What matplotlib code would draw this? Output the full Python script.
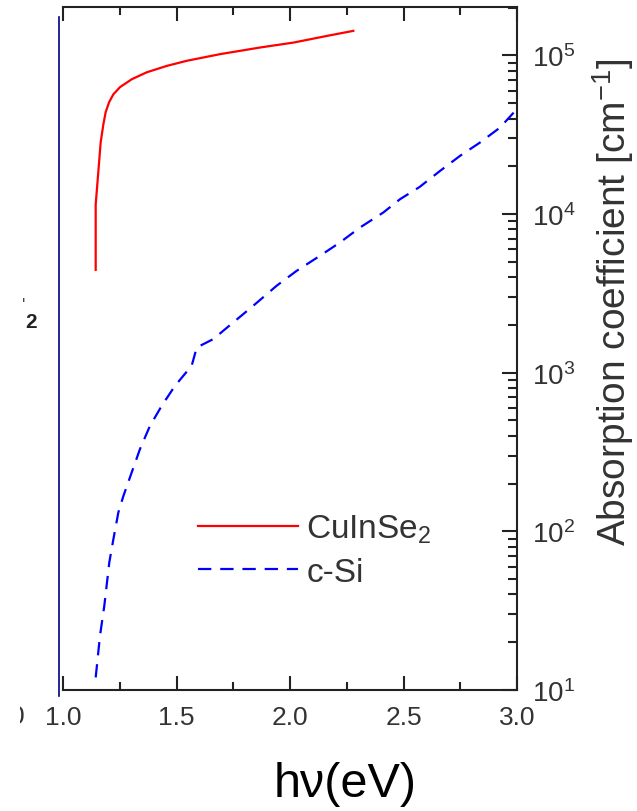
import matplotlib
matplotlib.use("Agg")
import matplotlib.pyplot as plt
from matplotlib.lines import Line2D
from matplotlib.transforms import Bbox
from matplotlib.ticker import MultipleLocator, LogLocator, NullFormatter

# photon energy (eV) and absorption coefficient (cm^-1)
cis_energy = [1.144, 1.144, 1.159, 1.166, 1.178, 1.188, 1.203, 1.222, 1.251, 1.303,
              1.369, 1.457, 1.545, 1.692, 1.868, 2.015, 2.162, 2.279]
cis_alpha = [4450, 11500, 21200, 28400, 36900, 43900, 50700, 56900, 63100, 70800,
             78300, 85900, 92500, 101900, 112200, 120500, 132700, 142900]

si_energy = [1.144, 1.163, 1.182, 1.204, 1.222, 1.244, 1.266, 1.303, 1.339, 1.383,
             1.435, 1.493, 1.567, 1.589, 1.662, 1.750, 1.838, 1.941, 2.029, 2.132,
             2.220, 2.308, 2.411, 2.485, 2.570, 2.661, 2.749, 2.837, 2.925, 3.000]
si_alpha = [12.0, 22.0, 34.0, 63.8, 89.3, 132, 167, 236, 330, 462,
            619, 826, 1107, 1442, 1629, 2075, 2642, 3532, 4385, 5458,
            6622, 8222, 10230, 12420, 14790, 18710, 23280, 28250, 35080, 46000]

series_labels = ["CuInSe$_2$", "c-Si"]

plt.rcParams["font.family"] = ["Liberation Sans", "DejaVu Sans"]
plt.rcParams["mathtext.fontset"] = "custom"
plt.rcParams["mathtext.rm"] = "Liberation Sans"
plt.rcParams["mathtext.it"] = "Liberation Sans:italic"

W, H = 637, 812
fig = plt.figure(figsize=(W / 100, H / 100), dpi=100)
ax = fig.add_axes([63 / W, 1 - 691 / H, (517 - 63) / W, (691 - 8) / H])

ax.plot(cis_energy, cis_alpha, color="#ff0000", lw=1.6, label=series_labels[0])
ax.plot(si_energy, si_alpha, color="#0000ff", lw=1.6, linestyle=(0, (6, 4)),
        label=series_labels[1])

ax.set_yscale("log")
ax.set_xlim(1.0, 3.0)
ax.set_ylim(10, 2.02e5)

spine_col = "#222222"
for side in ["top", "bottom", "right"]:
    ax.spines[side].set_linewidth(1.5)
    ax.spines[side].set_color(spine_col)
ax.spines["left"].set_visible(False)

ax.xaxis.set_major_locator(MultipleLocator(0.5))
ax.xaxis.set_minor_locator(MultipleLocator(0.25))
ax.xaxis.set_major_formatter(lambda v, p: f"{v:.1f}")
ax.tick_params(axis="x", which="both", direction="in", top=True, bottom=True,
               color=spine_col, width=1.5, labelsize=19, labelcolor="#333333", pad=11)
ax.tick_params(axis="x", which="major", length=10)
ax.tick_params(axis="x", which="minor", length=5.5)

ax.yaxis.tick_right()
ax.yaxis.set_major_locator(LogLocator(base=10, numticks=10))
ax.yaxis.set_minor_locator(LogLocator(base=10, subs=range(2, 10), numticks=10))
ax.yaxis.set_minor_formatter(NullFormatter())
ax.tick_params(axis="y", which="both", direction="in", left=False, right=True,
               color=spine_col, width=1.5, labelsize=20, labelcolor="#333333", pad=11)
ax.tick_params(axis="y", which="major", length=11)
ax.tick_params(axis="y", which="minor", length=6.5)

fig.text(613 / W, 1 - 302 / H, "Absorption coefficient [cm$^{-1}$]",
         rotation=90, ha="center", va="center", fontsize=28, color="#333333")

fig.text(345 / W, 1 - 785 / H, "hν(eV)", ha="center", va="center", fontsize=35,
         color="black")

ax.legend(loc="center left", bbox_to_anchor=(198 / W, 1 - 551 / H),
          bbox_transform=fig.transFigure, frameon=False, fontsize=24,
          handlelength=3.0, handletextpad=0.25, labelspacing=0.35,
          borderpad=0, borderaxespad=0, labelcolor="#333333")

# leftover of the neighbouring panel on the left
fig.add_artist(Line2D([58.5 / W, 58.5 / W], [1 - 18 / H, 1 - 697 / H],
                      transform=fig.transFigure, color="#000080", lw=1.2))
fig.text(31 / W, 1 - 323 / H, "2", ha="center", va="center", fontsize=15,
         color="#222222", fontweight="bold")
fig.text(24 / W, 1 - 307 / H, "'", ha="center", va="center", fontsize=13,
         color="#444444")
t = fig.text(17 / W, 1 - 717 / H, "0", ha="center", va="center", fontsize=19,
             color="#333333")
t.set_clip_box(Bbox.from_extents(20, 0, 60, H))
t.set_clip_on(True)

fig.savefig("out.png", dpi=100)
